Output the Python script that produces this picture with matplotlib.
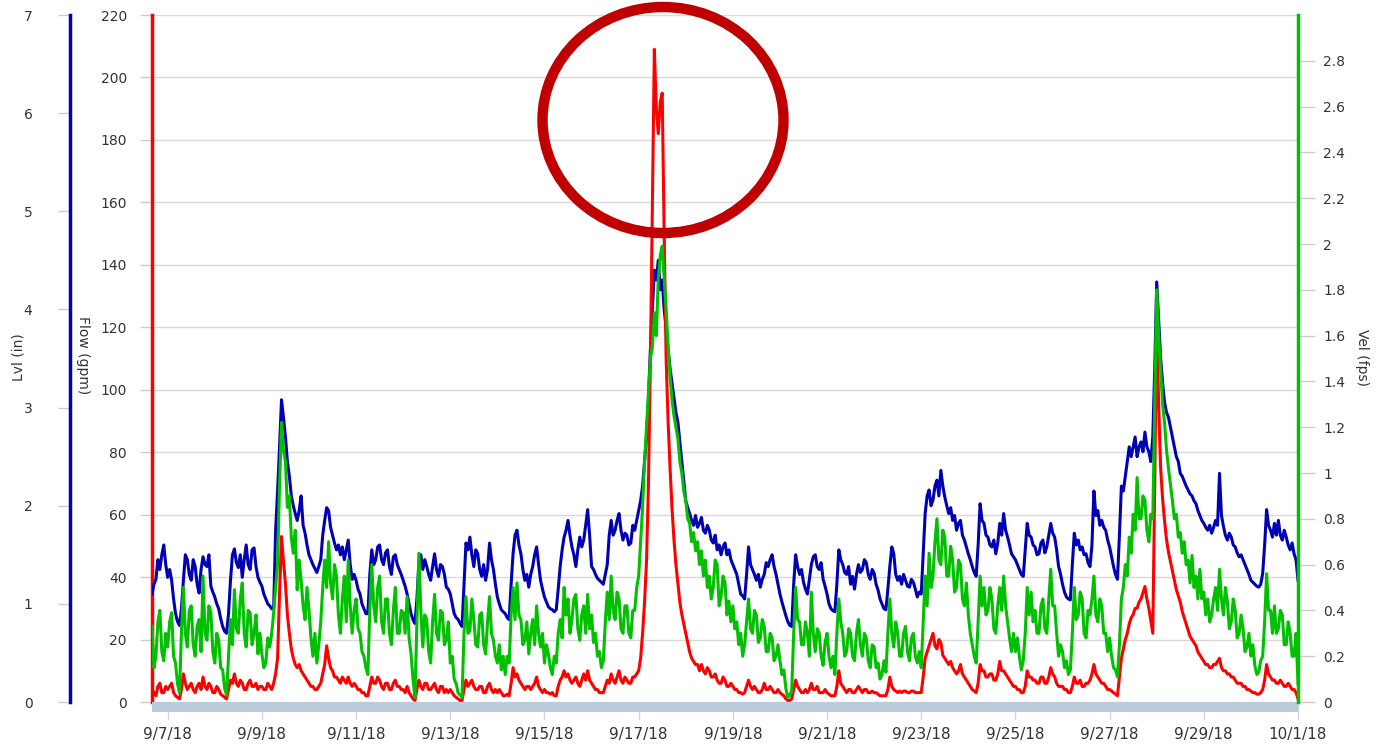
import numpy as np
import pandas as pd
import matplotlib
matplotlib.use("Agg")
import matplotlib.pyplot as plt
from matplotlib.patches import Ellipse, Rectangle

# hourly readings, 9/6/18 16:00 -> 10/1/18 00:00
start = "2018-09-06 16:00"
end = "2018-10-01 00:00"

# Level (in)
lvl = [
    1.1, 1.2, 1.25, 1.45, 1.35, 1.5, 1.6, 1.4,  # 9/6 16-23
    1.27, 1.35, 1.24, 1.05, 0.9, 0.82, 0.78, 0.95, 1.24, 1.5, 1.45, 1.3, 1.24, 1.45, 1.38, 1.2, 1.11, 1.35, 1.48, 1.4, 1.38, 1.5, 1.18, 1.12,  # 9/7
    1.07, 1.0, 0.95, 0.85, 0.77, 0.72, 0.7, 0.9, 1.24, 1.5, 1.56, 1.42, 1.37, 1.5, 1.27, 1.45, 1.6, 1.4, 1.35, 1.55, 1.57, 1.38, 1.27, 1.22,  # 9/8
    1.18, 1.1, 1.05, 1.0, 0.98, 0.95, 0.95, 1.75, 2.15, 2.6, 3.08, 2.9, 2.7, 2.45, 2.3, 2.1, 2.0, 1.92, 1.85, 1.95, 2.1, 1.8, 1.72, 1.6,  # 9/9
    1.5, 1.45, 1.4, 1.36, 1.32, 1.38, 1.45, 1.7, 1.85, 1.98, 1.95, 1.78, 1.7, 1.62, 1.55, 1.6, 1.5, 1.58, 1.45, 1.55, 1.65, 1.4, 1.25, 1.3,  # 9/10
    1.24, 1.15, 1.1, 1.0, 0.95, 0.9, 0.9, 1.3, 1.55, 1.4, 1.45, 1.58, 1.6, 1.45, 1.4, 1.52, 1.55, 1.38, 1.3, 1.48, 1.5, 1.4, 1.35, 1.3,  # 9/11
    1.24, 1.18, 1.1, 1.0, 0.9, 0.84, 0.8, 1.05, 1.41, 1.5, 1.35, 1.45, 1.38, 1.3, 1.24, 1.38, 1.51, 1.35, 1.28, 1.4, 1.38, 1.3, 1.17, 1.15,  # 9/12
    1.1, 1.0, 0.9, 0.86, 0.84, 0.8, 0.77, 1.2, 1.62, 1.55, 1.68, 1.5, 1.38, 1.55, 1.51, 1.35, 1.28, 1.4, 1.24, 1.35, 1.62, 1.45, 1.35, 1.2,  # 9/13
    1.07, 1.0, 0.94, 0.92, 0.9, 0.86, 0.84, 1.2, 1.51, 1.7, 1.75, 1.6, 1.51, 1.35, 1.24, 1.3, 1.17, 1.3, 1.38, 1.5, 1.58, 1.4, 1.24, 1.15,  # 9/14
    1.07, 1.02, 0.97, 0.95, 0.94, 0.92, 0.94, 1.15, 1.38, 1.55, 1.68, 1.75, 1.85, 1.7, 1.58, 1.5, 1.38, 1.55, 1.68, 1.58, 1.65, 1.8, 1.96, 1.7,  # 9/15
    1.38, 1.35, 1.3, 1.26, 1.24, 1.22, 1.2, 1.3, 1.4, 1.7, 1.85, 1.7, 1.75, 1.85, 1.92, 1.75, 1.65, 1.72, 1.7, 1.6, 1.62, 1.8, 1.75, 1.85,  # 9/16
    1.95, 2.05, 2.2, 2.45, 2.7, 3.1, 3.6, 4.0, 4.4, 4.3, 4.5, 4.2, 4.3, 4.0, 3.8, 3.6, 3.4, 3.25, 3.1, 2.95, 2.85, 2.65, 2.45, 2.25,  # 9/17
    2.05, 1.98, 1.92, 1.85, 1.8, 1.9, 1.78, 1.82, 1.88, 1.75, 1.72, 1.8, 1.75, 1.65, 1.62, 1.7, 1.55, 1.6, 1.5, 1.58, 1.62, 1.5, 1.55, 1.45,  # 9/18
    1.4, 1.35, 1.3, 1.2, 1.1, 1.08, 1.05, 1.3, 1.58, 1.4, 1.35, 1.3, 1.24, 1.3, 1.17, 1.25, 1.3, 1.42, 1.38, 1.45, 1.5, 1.38, 1.3, 1.2,  # 9/19
    1.1, 1.02, 0.95, 0.88, 0.82, 0.78, 0.77, 1.2, 1.5, 1.38, 1.3, 1.35, 1.22, 1.15, 1.1, 1.25, 1.4, 1.48, 1.5, 1.38, 1.35, 1.42, 1.25, 1.18,  # 9/20
    1.1, 1.0, 0.95, 0.93, 0.92, 1.2, 1.55, 1.45, 1.4, 1.32, 1.3, 1.38, 1.2, 1.28, 1.15, 1.3, 1.4, 1.32, 1.35, 1.45, 1.42, 1.3, 1.25, 1.35,  # 9/21
    1.31, 1.2, 1.14, 1.05, 1.0, 0.95, 0.94, 1.15, 1.38, 1.58, 1.51, 1.3, 1.24, 1.28, 1.2, 1.3, 1.24, 1.18, 1.17, 1.25, 1.22, 1.15, 1.07, 1.12,  # 9/22
    1.1, 1.5, 1.92, 2.1, 2.16, 2.0, 2.06, 2.2, 2.26, 2.1, 2.36, 2.2, 2.09, 2.0, 1.92, 1.98, 1.85, 1.9, 1.75, 1.82, 1.85, 1.7, 1.65, 1.58,  # 9/23
    1.51, 1.45, 1.38, 1.32, 1.28, 1.6, 2.02, 1.85, 1.82, 1.7, 1.68, 1.6, 1.58, 1.65, 1.51, 1.62, 1.82, 1.7, 1.92, 1.75, 1.68, 1.6, 1.51, 1.48,  # 9/24
    1.45, 1.4, 1.35, 1.3, 1.28, 1.55, 1.82, 1.7, 1.68, 1.6, 1.58, 1.5, 1.51, 1.62, 1.65, 1.52, 1.58, 1.7, 1.82, 1.72, 1.68, 1.55, 1.38, 1.3,  # 9/25
    1.2, 1.12, 1.07, 1.05, 1.04, 1.4, 1.72, 1.6, 1.65, 1.55, 1.58, 1.5, 1.51, 1.42, 1.38, 1.6, 2.15, 1.9, 1.95, 1.8, 1.85, 1.78, 1.75, 1.65,  # 9/26
    1.58, 1.48, 1.38, 1.3, 1.25, 1.7, 2.2, 2.15, 2.3, 2.45, 2.6, 2.5, 2.6, 2.7, 2.5, 2.6, 2.65, 2.55, 2.75, 2.6, 2.55, 2.45, 2.7, 3.4,  # 9/27
    4.28, 3.9, 3.5, 3.25, 3.05, 2.95, 2.9, 2.8, 2.7, 2.6, 2.5, 2.45, 2.33, 2.3, 2.25, 2.2, 2.16, 2.12, 2.1, 2.05, 2.02, 1.95, 1.9, 1.85,  # 9/28
    1.82, 1.78, 1.75, 1.8, 1.72, 1.78, 1.85, 1.8, 2.33, 1.9, 1.79, 1.7, 1.65, 1.72, 1.68, 1.6, 1.58, 1.52, 1.48, 1.5, 1.45, 1.4, 1.35, 1.3,  # 9/29
    1.24, 1.22, 1.2, 1.18, 1.17, 1.2, 1.31, 1.6, 1.96, 1.8, 1.75, 1.68, 1.82, 1.7, 1.85, 1.7, 1.65, 1.75, 1.68, 1.6, 1.55, 1.62, 1.51, 1.45,  # 9/30
    1.24,  # 10/1
]

# Flow (gpm)
flow = [
    4, 3, 2, 5, 6, 3, 3, 5,
    4, 5, 6, 3, 2, 1.5, 1, 4, 9, 6, 4, 5, 6, 4, 3, 5, 6, 4, 8, 5, 4, 6, 5, 3,
    3, 5, 4, 2.5, 2, 1.5, 1, 4, 7, 6, 9, 6, 5, 7, 6, 4, 4, 6, 7, 5, 5, 6, 4, 5,
    5, 4, 4, 6, 5, 4, 6, 9, 14, 35, 53, 45, 38, 28, 22, 17, 14, 12, 11, 12, 10, 9, 8, 7,
    6, 5, 5, 4, 4, 5, 6, 9, 12, 18, 14, 11, 10, 8, 8, 7, 6, 8, 7, 6, 8, 6, 5, 6,
    5, 4, 4, 3, 3, 2, 2, 5, 8, 6, 6, 8, 7, 5, 4, 6, 6, 4, 4, 6, 7, 5, 5, 4,
    4, 3, 5, 3, 2, 1, 0.5, 4, 7, 5, 4, 6, 6, 4, 4, 5, 6, 4, 3, 5, 5, 3, 4, 3,
    4, 3, 2, 1.5, 1, 0.5, 0.5, 4, 7, 5, 6, 7, 5, 4, 4, 5, 5, 3, 3, 5, 6, 4, 3, 4,
    3, 4, 3, 2, 2, 2.5, 2, 6, 11, 8, 9, 7, 6, 5, 4, 5, 5, 4, 5, 6, 8, 5, 4, 3,
    4, 3, 3, 2.5, 3, 2, 2, 5, 7, 8, 10, 8, 9, 7, 6, 7, 8, 6, 5, 7, 9, 7, 10, 7,
    6, 5, 4, 4, 3, 3, 3, 5, 7, 6, 9, 7, 6, 8, 10, 7, 6, 8, 7, 6, 6, 8, 8, 9,
    10, 14, 22, 32, 45, 70, 110, 160, 209, 190, 182, 192, 195, 150, 110, 90, 75, 62, 52, 44, 38, 32, 28, 25,
    22, 19, 16, 14, 13, 12, 12, 10, 12, 10, 9, 11, 10, 8, 8, 9, 7, 6, 6, 8, 7, 5, 5, 6,
    5, 4, 4, 3, 3, 2.5, 3, 5, 7, 5, 4, 5, 4, 3, 3, 4, 6, 4, 4, 5, 4, 3, 3, 4,
    3, 2.5, 2, 1, 0.5, 0.5, 1, 4, 7, 5, 4, 3, 3, 4, 3, 4, 6, 4, 4, 5, 3, 3, 3, 4,
    3, 2.5, 2, 2, 2, 5, 10, 6, 5, 4, 3, 4, 4, 3, 3, 4, 5, 4, 3, 4, 4, 3, 3, 3.5,
    3, 3, 2.5, 2, 2, 2, 2, 4, 8, 5, 4, 3.5, 3, 3.5, 3, 3.5, 3.5, 3, 3, 3.5, 3.5, 3, 3, 3,
    3, 8, 14, 16, 18, 20, 22, 18, 17, 20, 19, 15, 14, 13, 12, 13, 11, 10, 9, 10, 12, 9, 8, 7,
    6, 5, 4, 3.5, 3, 6, 12, 10, 10, 8, 8, 9, 9, 7, 7, 9, 13, 10, 10, 9, 8, 7, 6, 5,
    5, 4, 4, 3, 3, 5, 10, 8, 8, 7, 7, 6, 6, 8, 8, 6, 6, 8, 11, 9, 8, 6, 5, 5,
    5, 4, 4, 3, 3, 5, 8, 6, 6, 7, 5, 5, 6, 6, 7, 9, 12, 9, 8, 7, 6, 6, 5, 4,
    4, 3.5, 3, 2.5, 2, 8, 14, 17, 20, 22, 25, 27, 28, 30, 30, 32, 33, 35, 37, 33, 30, 26, 22, 70,
    123, 95, 75, 65, 58, 52, 48, 45, 42, 39, 36, 34, 32, 29, 27, 25, 23, 21, 20, 19, 18, 16, 15, 14,
    13, 12, 12, 11, 11, 12, 12, 13, 14, 11, 10, 10, 9, 9, 8, 8, 7, 6, 6, 6, 5, 5, 4, 4,
    3.5, 3, 3, 2.5, 2.5, 3, 4, 7, 12, 9, 8, 7, 7, 6, 6, 7, 6, 5, 5, 6, 5, 4, 4, 3,
    1,
]

# Velocity (fps)
vel = [
    0.33, 0.15, 0.2, 0.35, 0.4, 0.22, 0.18, 0.3,
    0.24, 0.35, 0.39, 0.2, 0.17, 0.08, 0.04, 0.3, 0.5, 0.3, 0.24, 0.4, 0.42, 0.25, 0.2, 0.33, 0.36, 0.22, 0.55, 0.3, 0.27, 0.42, 0.39, 0.22,
    0.17, 0.3, 0.27, 0.15, 0.14, 0.06, 0.03, 0.2, 0.36, 0.25, 0.49, 0.32, 0.3, 0.45, 0.52, 0.3, 0.24, 0.4, 0.39, 0.25, 0.3, 0.38, 0.21, 0.3,
    0.21, 0.15, 0.17, 0.28, 0.24, 0.3, 0.39, 0.5, 0.6, 0.95, 1.22, 1.1, 1.05, 0.85, 0.9, 0.72, 0.65, 0.75, 0.49, 0.62, 0.53, 0.42, 0.36, 0.5,
    0.4, 0.28, 0.2, 0.3, 0.17, 0.25, 0.35, 0.5, 0.62, 0.5, 0.7, 0.52, 0.45, 0.6, 0.55, 0.38, 0.3, 0.45, 0.55, 0.35, 0.62, 0.42, 0.3, 0.4,
    0.45, 0.32, 0.3, 0.22, 0.2, 0.15, 0.12, 0.4, 0.6, 0.42, 0.35, 0.5, 0.55, 0.35, 0.3, 0.45, 0.45, 0.3, 0.25, 0.4, 0.5, 0.3, 0.3, 0.4,
    0.39, 0.3, 0.46, 0.28, 0.21, 0.1, 0.02, 0.35, 0.65, 0.4, 0.24, 0.38, 0.36, 0.22, 0.17, 0.35, 0.47, 0.3, 0.27, 0.4, 0.39, 0.25, 0.27, 0.35,
    0.17, 0.2, 0.1, 0.08, 0.04, 0.03, 0.02, 0.3, 0.46, 0.3, 0.31, 0.45, 0.36, 0.25, 0.24, 0.38, 0.39, 0.25, 0.21, 0.35, 0.46, 0.3, 0.27, 0.2,
    0.17, 0.25, 0.14, 0.2, 0.12, 0.2, 0.17, 0.38, 0.5, 0.36, 0.52, 0.38, 0.36, 0.25, 0.27, 0.35, 0.21, 0.3, 0.36, 0.25, 0.42, 0.3, 0.24, 0.3,
    0.17, 0.25, 0.21, 0.15, 0.12, 0.2, 0.17, 0.3, 0.36, 0.28, 0.5, 0.38, 0.45, 0.3, 0.36, 0.45, 0.47, 0.32, 0.27, 0.38, 0.42, 0.3, 0.47, 0.32,
    0.38, 0.26, 0.3, 0.2, 0.22, 0.15, 0.18, 0.35, 0.48, 0.36, 0.55, 0.4, 0.36, 0.48, 0.45, 0.32, 0.3, 0.42, 0.42, 0.3, 0.28, 0.4, 0.4, 0.5,
    0.55, 0.7, 0.85, 1.05, 1.2, 1.35, 1.5, 1.55, 1.7, 1.6, 1.85, 1.95, 1.99, 1.85, 1.72, 1.55, 1.42, 1.32, 1.25, 1.2, 1.15, 1.05, 1.0, 0.92,
    0.88, 0.8, 0.78, 0.7, 0.74, 0.66, 0.7, 0.6, 0.66, 0.55, 0.62, 0.5, 0.55, 0.45, 0.5, 0.62, 0.6, 0.42, 0.46, 0.55, 0.52, 0.38, 0.44, 0.35,
    0.42, 0.32, 0.35, 0.25, 0.3, 0.2, 0.25, 0.35, 0.45, 0.32, 0.3, 0.4, 0.38, 0.26, 0.28, 0.36, 0.33, 0.22, 0.22, 0.3, 0.28, 0.18, 0.2, 0.25,
    0.18, 0.12, 0.14, 0.06, 0.02, 0.03, 0.05, 0.3, 0.5, 0.36, 0.35, 0.25, 0.25, 0.35, 0.3, 0.2, 0.48, 0.3, 0.22, 0.32, 0.3, 0.2, 0.16, 0.26,
    0.3, 0.2, 0.15, 0.2, 0.12, 0.3, 0.45, 0.35, 0.3, 0.2, 0.22, 0.32, 0.3, 0.2, 0.18, 0.3, 0.36, 0.25, 0.2, 0.3, 0.28, 0.18, 0.15, 0.25,
    0.24, 0.15, 0.17, 0.1, 0.12, 0.18, 0.13, 0.3, 0.45, 0.3, 0.24, 0.35, 0.3, 0.2, 0.2, 0.3, 0.33, 0.22, 0.18, 0.28, 0.3, 0.2, 0.17, 0.22,
    0.15, 0.35, 0.55, 0.42, 0.65, 0.5, 0.55, 0.7, 0.8, 0.62, 0.6, 0.75, 0.72, 0.55, 0.55, 0.68, 0.62, 0.48, 0.5, 0.62, 0.6, 0.45, 0.42, 0.52,
    0.38, 0.3, 0.25, 0.2, 0.17, 0.35, 0.55, 0.42, 0.5, 0.38, 0.4, 0.5, 0.45, 0.32, 0.3, 0.42, 0.5, 0.4, 0.55, 0.42, 0.35, 0.28, 0.22, 0.3,
    0.22, 0.28, 0.2, 0.14, 0.18, 0.3, 0.5, 0.38, 0.48, 0.35, 0.4, 0.3, 0.3, 0.42, 0.45, 0.32, 0.3, 0.45, 0.58, 0.42, 0.42, 0.3, 0.2, 0.25,
    0.22, 0.15, 0.18, 0.12, 0.14, 0.3, 0.5, 0.36, 0.38, 0.48, 0.45, 0.3, 0.28, 0.4, 0.38, 0.45, 0.55, 0.38, 0.35, 0.45, 0.42, 0.3, 0.3, 0.22,
    0.28, 0.2, 0.15, 0.14, 0.11, 0.25, 0.45, 0.5, 0.6, 0.55, 0.72, 0.65, 0.82, 0.75, 0.98, 0.8, 0.8, 0.9, 0.88, 0.75, 0.7, 0.82, 0.8, 1.3,
    1.8, 1.6, 1.45, 1.3, 1.22, 1.1, 1.02, 0.95, 0.88, 0.8, 0.82, 0.72, 0.74, 0.65, 0.7, 0.6, 0.62, 0.52, 0.64, 0.5, 0.55, 0.45, 0.58, 0.45,
    0.48, 0.38, 0.45, 0.35, 0.38, 0.45, 0.5, 0.4, 0.58, 0.45, 0.38, 0.5, 0.44, 0.32, 0.35, 0.45, 0.4, 0.28, 0.3, 0.38, 0.32, 0.22, 0.24, 0.3,
    0.2, 0.25, 0.16, 0.12, 0.13, 0.18, 0.2, 0.35, 0.56, 0.4, 0.4, 0.3, 0.42, 0.3, 0.32, 0.4, 0.38, 0.25, 0.25, 0.35, 0.3, 0.2, 0.2, 0.3,
    0.08,
]

xtick_labels = ["9/7/18", "9/9/18", "9/11/18", "9/13/18", "9/15/18", "9/17/18",
                "9/19/18", "9/21/18", "9/23/18", "9/25/18", "9/27/18", "9/29/18",
                "10/1/18"]
flow_ticks = list(range(0, 221, 20))
lvl_ticks = list(range(0, 8))
vel_ticks = [0, 0.2, 0.4, 0.6, 0.8, 1, 1.2, 1.4, 1.6, 1.8, 2, 2.2, 2.4, 2.6, 2.8]

BLUE = "#0000b4"
RED = "#ff0000"
GREEN = "#00c000"
TICK_C = "#cccccc"
TXT = "#333333"

times = pd.date_range(start, end, freq="1h")

W, H = 1378, 745
fig = plt.figure(figsize=(W / 100, H / 100), dpi=100)
rect = [152 / W, 1 - 702 / H, (1298 - 152) / W, (702 - 15) / H]

# base axes: flow scale, gridlines, red spine
ax = fig.add_axes(rect)
ax.set_xlim(times[0], times[-1])
ax.set_ylim(0, 220)
ax.set_yticks(flow_ticks)
ax.set_yticklabels([str(t) for t in flow_ticks])
ax.grid(axis="y", color="#d9d9d9", linewidth=1)
ax.set_axisbelow(True)
for s in ["top", "right", "bottom"]:
    ax.spines[s].set_visible(False)
ax.spines["left"].set_color(RED)
ax.spines["left"].set_linewidth(2.5)
ax.tick_params(axis="y", length=9, width=1, color=TICK_C, pad=9,
               labelsize=10, labelcolor=TXT)
xt = pd.to_datetime(xtick_labels, format="%m/%d/%y")
ax.set_xticks(xt)
ax.set_xticklabels(xtick_labels)
ax.tick_params(axis="x", length=12, width=1, color="#c8d4e0", pad=6,
               labelsize=11, labelcolor=TXT)
ax.add_patch(Rectangle((0, -10 / 687), 1, 10 / 687, transform=ax.transAxes,
                       facecolor="#bccbdb", edgecolor="none", clip_on=False, zorder=3))

# level axis (outer left)
ax_lvl = ax.twinx()
ax_lvl.set_ylim(0, 7)
ax_lvl.yaxis.set_ticks_position("left")
ax_lvl.spines["left"].set_position(("axes", -(152 - 70) / (1298 - 152)))
ax_lvl.spines["left"].set_visible(True)
ax_lvl.spines["left"].set_color(BLUE)
ax_lvl.spines["left"].set_linewidth(2.5)
for s in ["top", "right", "bottom"]:
    ax_lvl.spines[s].set_visible(False)
ax_lvl.set_yticks(lvl_ticks)
ax_lvl.tick_params(axis="y", length=9, width=1, color=TICK_C, pad=18,
                   labelsize=10, labelcolor=TXT)
ax_lvl.plot(times, lvl, color=BLUE, linewidth=2.2)

# flow line
ax_flow = ax.twinx()
ax_flow.set_ylim(0, 220)
ax_flow.axis("off")
ax_flow.plot(times, flow, color=RED, linewidth=2.2)

# velocity axis (right)
ax_vel = ax.twinx()
ax_vel.set_ylim(0, 3)
for s in ["top", "left", "bottom"]:
    ax_vel.spines[s].set_visible(False)
ax_vel.spines["right"].set_color(GREEN)
ax_vel.spines["right"].set_linewidth(2.5)
ax_vel.set_yticks(vel_ticks)
ax_vel.set_yticklabels([f"{v:g}" for v in vel_ticks])
ax_vel.tick_params(axis="y", length=12, width=1, color=TICK_C, pad=6,
                   labelsize=10, labelcolor=TXT)
ax_vel.plot(times, vel, color=GREEN, linewidth=2.2)

# axis titles
fig.text(18 / W, 1 - 357 / H, "Lvl (in)", rotation=90, ha="center", va="center",
         fontsize=10, color=TXT)
fig.text(83 / W, 1 - 355 / H, "Flow (gpm)", rotation=270, ha="center", va="center",
         fontsize=10, color=TXT)
fig.text(1362 / W, 1 - 357 / H, "Vel (fps)", rotation=270, ha="center", va="center",
         fontsize=10, color=TXT)

# highlight circle around the flow spike
fig.add_artist(Ellipse((663 / W, 1 - 120 / H), 241 / W, 226 / H,
                       transform=fig.transFigure, fill=False,
                       edgecolor="#c00000", linewidth=7.5, zorder=10))

fig.savefig("out.png", dpi=100)
